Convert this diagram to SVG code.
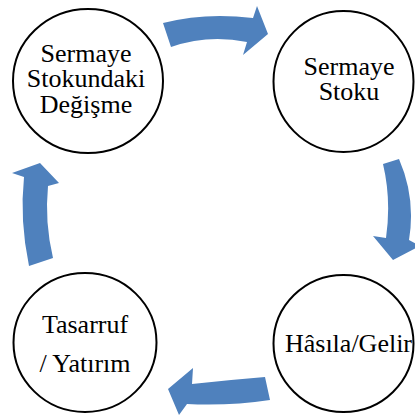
<svg xmlns="http://www.w3.org/2000/svg" width="415" height="417" viewBox="0 0 415 417">
<style>
.node{fill:#fff;stroke:#000;stroke-width:2}
text{font-size:26px;fill:#000;text-anchor:middle}
.arr{fill:#4F81BD;stroke:none}
</style>
<rect width="415" height="417" fill="#fff"/>
<g id="connectors">
<path class="arr" d="M163,23 Q205,12 253,18 L257,6 L268,34 L243,55 L247,42 Q208,34 171,47 Z"/>
<path class="arr" d="M399,159 Q416,198 409,240 L420,246 L393,260 L373,236 L386,238 Q391.5,200 383,164 Z"/>
<path class="arr" d="M265,377 Q228,380 192,384 L193,368 L168,389 L179,415 L187,404 Q230,406 270,400 Z"/>
<path class="arr" d="M29,266 Q19.5,220 24,177 L12,173 L40,163 L59,183 L48,186 Q44.5,222 53,258 Z"/>
</g>
<g font-family="Liberation Serif, DejaVu Serif, serif">
<g id="node-sermaye-stokundaki-degisme">
<ellipse class="node" cx="88" cy="81" rx="75" ry="72"/>
<text x="86" y="62">Sermaye</text>
<text x="86" y="87">Stokundaki</text>
<text x="86" y="113">Değişme</text>
</g>
<g id="node-sermaye-stoku">
<ellipse class="node" cx="343.5" cy="81.5" rx="70" ry="70.5"/>
<text x="349" y="75">Sermaye</text>
<text x="349" y="100">Stoku</text>
</g>
<g id="node-hasila-gelir">
<ellipse class="node" cx="343.5" cy="343.5" rx="70" ry="68.5"/>
<text x="348.5" y="352">Hâsıla/Gelir</text>
</g>
<g id="node-tasarruf-yatirim">
<ellipse class="node" cx="85" cy="342.5" rx="71.5" ry="69.5"/>
<text x="85" y="333">Tasarruf</text>
<text x="85" y="372">/ Yatırım</text>
</g>
</g>
</svg>
